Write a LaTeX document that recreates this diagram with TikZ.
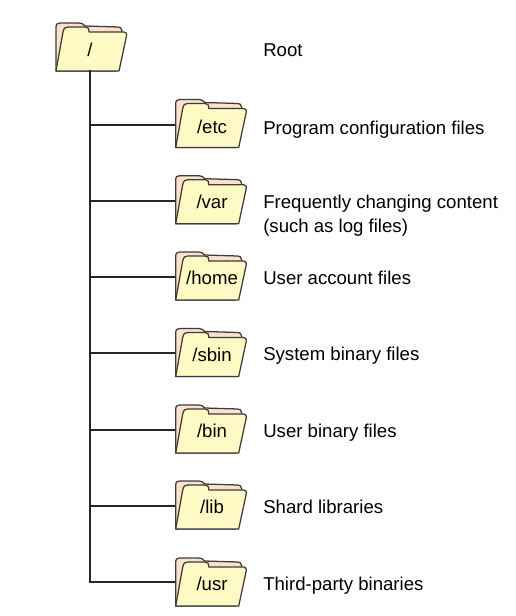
\documentclass[tikz,border=0pt]{standalone}
\usepackage{fontspec}
\setmainfont{Liberation Sans}
\definecolor{backc}{RGB}{252,226,205}
\definecolor{frontc}{RGB}{255,250,195}
\definecolor{linec}{RGB}{60,60,60}
\tikzset{
  x=0.75pt,y=-0.75pt,
  folderline/.style={draw=linec,line width=0.95pt,line join=round},
  conn/.style={draw=black!85,line width=1.35pt},
  anchorbox/.style={minimum width=53.25pt,minimum height=33.75pt,inner sep=0pt},
  lab/.style={inner sep=0pt,font=\fontsize{13.95}{16}\selectfont,anchor=base west,align=left},
  flab/.style={inner sep=0pt,font=\fontsize{13.95}{16}\selectfont,anchor=base},
  pics/folder/.style={code={
    \path[folderline,fill=backc] (0,0) -- (0,-43) .. controls (0,-47) and (1,-48) .. (4,-48)
      -- (23,-48) .. controls (26,-48) and (27,-47) .. (29,-45) -- (62,-44) .. controls (64,-44) and (66,-43) .. (66,-40) -- (60,0) -- cycle;
    \path[folderline,fill=frontc] (0,0) -- (7,-39) .. controls (8,-43) and (9,-44) .. (12,-44)
      -- (29,-44) .. controls (32,-44) and (33,-43) .. (33,-39) -- (68,-39)
      .. controls (70.5,-39) and (71,-37) .. (70.5,-35) -- (63,0) -- cycle;
  }}
}
\begin{document}
\begin{tikzpicture}
\useasboundingbox (0,0) rectangle (515,616);
% folders
\pic at (56,71) {folder};
\node[anchorbox] (root) at (90.3,47) {};
\foreach \n/\by/\cy in {etc/147.5/125,var/223.7/201,home/300/277,sbin/376.5/353,bin/453/430,lib/529/506,usr/606/582}{
  \pic at (175.7,\by) {folder};
  \node[anchorbox,minimum height={1.5pt*(\by-\cy)}] (\n) at (211.2,\cy) {};
}
% folder labels
\node[flab] (lroot) at (90,56.5) {/};
\node[flab] (letc) at (212,133.5) {/etc};
\node[flab] (lvar) at (212,209) {/var};
\node[flab] (lhome) at (212,284) {/home};
\node[flab] (lsbin) at (212,361) {/sbin};
\node[flab] (lbin) at (212,437.5) {/bin};
\node[flab] (llib) at (212,513.5) {/lib};
\node[flab] (lusr) at (212,590) {/usr};
% connectors
\draw[conn] (root.south) -- (root.south |- usr.west) -- (usr.west);
\foreach \n in {etc,var,home,sbin,bin,lib}{
  \draw[conn] (root.south |- \n.west) -- (\n.west);
}
% descriptions
\node[lab] (droot) at (263,56.2) {Root};
\node[lab] (detc) at (263,134.2) {Program configuration files};
\node[lab] (dvar) at (263,208.7) {Frequently changing content};
\node[lab] (dvarb) at (263,232.7) {(such as log files)};
\node[lab] (dhome) at (263,284.2) {User account files};
\node[lab] (dsbin) at (263,360.7) {System binary files};
\node[lab] (dbin) at (263,437.2) {User binary files};
\node[lab] (dlib) at (263,513.7) {Shard libraries};
\node[lab] (dusr) at (263,590.2) {Third-party binaries};
\end{tikzpicture}
\end{document}
